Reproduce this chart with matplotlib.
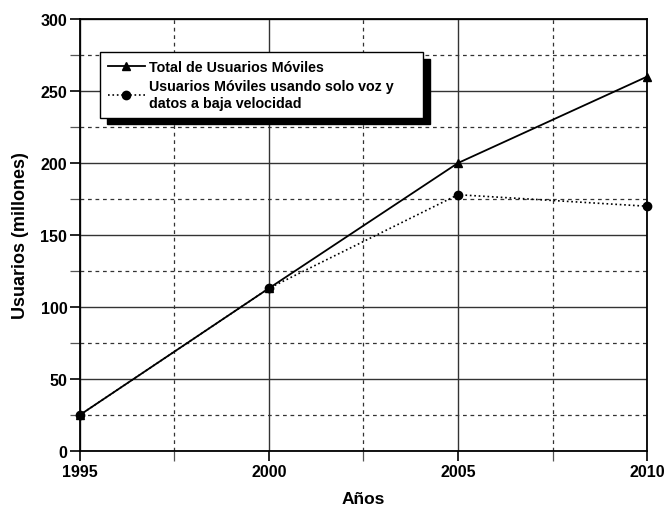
import matplotlib
matplotlib.use('Agg')
import matplotlib.pyplot as plt
from matplotlib.ticker import MultipleLocator

#Data
years = [1995, 2000, 2005, 2010]
total = [25, 113, 200, 260]
voz = [25, 113, 178, 170]
label_total = 'Total de Usuarios Móviles'
label_voz = 'Usuarios Móviles usando solo voz y\ndatos a baja velocidad'

plt.rcParams['font.family'] = ['Liberation Sans', 'DejaVu Sans']
plt.rcParams['font.weight'] = 'bold'

fig = plt.figure(figsize=(6.65, 5.1), dpi=100)
ax = fig.add_axes([0.120, 0.1137, 0.853, 0.847])

#Plot both series
ax.plot(years, total, color='black', lw=1.3, marker='^', ms=6, label=label_total, clip_on=False, zorder=3)
ax.plot(years, voz, color='black', lw=1.2, ls=':', marker='o', ms=6, label=label_voz, clip_on=False, zorder=3)

#Axes limits and ticks
ax.set_xlim(1995, 2010)
ax.set_ylim(0, 300)
ax.xaxis.set_major_locator(MultipleLocator(5))
ax.xaxis.set_minor_locator(MultipleLocator(2.5))
ax.yaxis.set_major_locator(MultipleLocator(50))
ax.yaxis.set_minor_locator(MultipleLocator(25))
ax.grid(which='major', color='#333333', lw=1.0, ls='-')
ax.grid(which='minor', color='#333333', lw=0.9, ls=(0, (3, 3)))
ax.tick_params(which='major', length=7, width=1.2, labelsize=11.5, pad=2)
ax.tick_params(which='minor', length=7, width=0.9, color='#555555')
for lab in ax.get_xticklabels() + ax.get_yticklabels():
    lab.set_fontweight('bold')
for s in ax.spines.values():
    s.set_linewidth(1.3)
ax.set_axisbelow(True)

ax.set_xlabel('Años', fontsize=12.5, fontweight='bold', labelpad=9)
ax.set_ylabel('Usuarios (millones)', fontsize=13, fontweight='bold', labelpad=8)

#Legend with a solid black shadow, stretched to the width seen in the picture
leg = ax.legend(loc='upper left', bbox_to_anchor=(0.035, 0.924, 0.570, 0.0), mode='expand',
                borderaxespad=0, fancybox=False, framealpha=1, edgecolor='black',
                shadow={'color': 'black', 'alpha': 1, 'ox': 5, 'oy': -5},
                prop={'size': 10.3, 'weight': 'bold'}, handlelength=2.6,
                handletextpad=0.3, labelspacing=0.4, borderpad=0.55)
leg.get_frame().set_linewidth(1.0)

fig.savefig('out.png', dpi=100)
